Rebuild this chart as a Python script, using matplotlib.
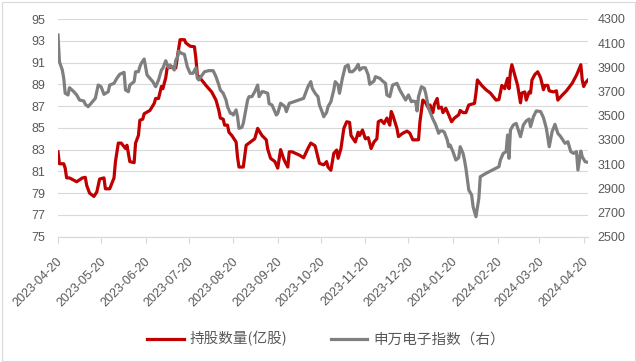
import numpy as np
import pandas as pd
import matplotlib
matplotlib.use("Agg")
import matplotlib.pyplot as plt
import matplotlib.dates as mdates
import matplotlib.transforms as mtransforms
from matplotlib.patches import Rectangle

# days counted from 2023-04-20
start = pd.Timestamp("2023-04-20")

hold_days = [0, 1, 4, 5, 6, 8, 13, 17, 19, 20, 22, 25, 27, 29, 32, 33, 36, 39, 40, 42,
             44, 47, 48, 50, 53, 54, 56, 57, 59, 60, 64, 67, 68, 70, 72, 73, 75, 76, 80, 82,
             83, 85, 88, 89, 92, 95, 96, 97, 100, 103, 105, 107, 110, 112, 113, 115, 116, 118, 119, 121,
             124, 125, 126, 129, 131, 134, 137, 139, 142, 145, 146, 148, 151, 153, 155, 157, 158, 160, 161, 163,
             168, 171, 174, 176, 179, 182, 185, 187, 188, 190, 192, 194, 195, 197, 199, 201, 203, 204, 207, 209,
             210, 212, 214, 216, 218, 220, 222, 223, 225, 227, 229, 231, 232, 233, 236, 237, 240, 243, 245, 247,
             251, 252, 254, 256, 258, 259, 261, 262, 264, 265, 267, 268, 270, 272, 274, 276, 279, 280, 282, 284,
             286, 290, 291, 292, 295, 298, 301, 305, 307, 309, 311, 312, 313, 314, 315, 316, 318, 320, 322, 323,
             325, 326, 328, 329, 330, 332, 334, 336, 338, 339, 341, 342, 345, 347, 348, 351, 354, 358, 361, 362,
             364, 365, 366, 367, 369]
hold_vals = [82.8, 81.7, 81.7, 81.3, 80.4, 80.4, 80.05, 80.4, 80.45, 79.7, 79.0, 78.7, 79.1, 80.3, 80.4, 79.4, 79.4, 80.4, 81.9, 83.6,
             83.6, 83.1, 83.4, 81.9, 81.8, 83.6, 84.3, 85.7, 85.8, 86.3, 86.6, 87.25, 87.7, 87.7, 88.8, 88.6, 89.6, 90.5, 90.6, 90.5,
             91.4, 93.1, 93.1, 92.8, 92.5, 92.45, 91.4, 89.85, 89.4, 88.9, 88.6, 88.3, 87.55, 86.6, 85.9, 85.8, 85.25, 85.25, 84.6, 84.3,
             83.7, 82.3, 81.4, 81.4, 83.4, 83.7, 84.0, 84.95, 84.3, 83.9, 83.05, 82.2, 81.9, 81.3, 83.0, 82.2, 81.9, 81.4, 82.8, 82.8,
             82.5, 82.25, 83.1, 83.6, 83.35, 81.74, 81.6, 81.9, 81.4, 81.1, 82.65, 82.96, 82.2, 83.1, 84.95, 85.56, 85.5, 84.3, 83.7, 84.6,
             84.3, 84.8, 84.0, 84.1, 83.1, 83.7, 84.0, 85.56, 85.7, 85.4, 85.9, 85.25, 86.5, 86.2, 84.95, 84.2, 84.5, 84.7, 84.5, 83.9,
             83.9, 85.56, 87.55, 87.3, 86.8, 87.1, 86.4, 87.15, 87.7, 86.8, 86.9, 86.4, 86.8, 86.2, 85.56, 85.9, 86.2, 86.6, 86.4, 86.4,
             87.1, 87.25, 88.2, 89.4, 88.9, 88.5, 88.2, 87.55, 87.6, 88.9, 88.6, 89.1, 89.55, 88.6, 90.15, 90.8, 89.85, 88.9, 87.3, 88.2,
             88.3, 87.55, 88.3, 88.2, 89.4, 89.9, 90.15, 89.6, 88.5, 88.9, 88.9, 88.4, 88.3, 88.4, 87.55, 88.0, 88.4, 89.1, 89.85, 90.15,
             90.8, 89.4, 88.8, 89.1, 89.4]

idx_days = [0, 1, 3, 4, 5, 7, 8, 11, 13, 15, 18, 19, 21, 23, 26, 28, 30, 32, 35, 36,
            39, 41, 43, 46, 47, 49, 50, 53, 54, 56, 57, 58, 60, 62, 64, 66, 68, 70, 72, 73,
            75, 77, 78, 81, 82, 83, 84, 86, 88, 90, 92, 94, 96, 97, 98, 100, 102, 105, 108, 110,
            112, 113, 115, 117, 118, 120, 121, 122, 124, 125, 126, 128, 129, 132, 133, 135, 137, 139, 140, 142,
            143, 146, 147, 149, 152, 153, 155, 158, 159, 161, 163, 171, 174, 176, 177, 179, 181, 182, 184, 185,
            187, 188, 190, 192, 193, 195, 196, 198, 200, 202, 203, 205, 207, 209, 210, 212, 214, 216, 217, 220,
            221, 224, 226, 228, 229, 231, 233, 236, 238, 240, 242, 244, 246, 247, 249, 250, 251, 253, 255, 256,
            258, 261, 263, 265, 266, 268, 269, 271, 272, 273, 275, 277, 279, 280, 282, 283, 284, 286, 288, 289,
            291, 293, 294, 298, 307, 308, 310, 312, 313, 314, 315, 317, 319, 322, 324, 326, 328, 329, 331, 333,
            336, 338, 340, 342, 344, 346, 348, 350, 353, 355, 357, 359, 361, 362, 364, 365, 367, 369]
idx_vals = [4168, 3947, 3878, 3810, 3686, 3672, 3732, 3699, 3672, 3630, 3622, 3595, 3575, 3603, 3644, 3754, 3740, 3677, 3699, 3754,
            3768, 3810, 3843, 3859, 3713, 3699, 3754, 3782, 3864, 3864, 3906, 3934, 3969, 3837, 3810, 3782, 3740, 3796, 3878, 3892,
            3955, 3897, 3920, 3878, 3961, 3975, 4035, 4016, 4008, 3906, 3851, 3851, 3897, 3810, 3796, 3831, 3864, 3873, 3873, 3823,
            3754, 3713, 3686, 3630, 3575, 3520, 3520, 3506, 3548, 3492, 3396, 3404, 3437, 3630, 3658, 3658, 3699, 3754, 3658, 3699,
            3699, 3686, 3600, 3589, 3506, 3520, 3603, 3575, 3534, 3603, 3611, 3644, 3740, 3782, 3727, 3686, 3658, 3589, 3528, 3492,
            3528, 3575, 3616, 3713, 3782, 3754, 3686, 3810, 3906, 3920, 3864, 3864, 3886, 3925, 3878, 3897, 3897, 3837, 3760, 3787,
            3823, 3810, 3787, 3768, 3672, 3658, 3754, 3768, 3713, 3672, 3630, 3672, 3616, 3622, 3616, 3540, 3658, 3740, 3727, 3686,
            3562, 3473, 3424, 3355, 3374, 3374, 3363, 3300, 3244, 3258, 3203, 3134, 3153, 3244, 3189, 3134, 3065, 2886, 2845, 2748,
            2665, 2817, 2996, 3024, 3079, 3134, 3189, 3203, 3341, 3148, 3382, 3424, 3437, 3327, 3424, 3457, 3473, 3410, 3492, 3540,
            3535, 3484, 3396, 3244, 3368, 3429, 3355, 3327, 3272, 3285, 3203, 3189, 3203, 3051, 3208, 3161, 3120, 3115]

tick_dates = ["2023-04-20", "2023-05-20", "2023-06-20", "2023-07-20", "2023-08-20", "2023-09-20",
              "2023-10-20", "2023-11-20", "2023-12-20", "2024-01-20", "2024-02-20", "2024-03-20",
              "2024-04-20"]
left_ticks = list(range(75, 96, 2))
right_ticks = list(range(2500, 4301, 200))

hold_label = "持股数量(亿股)"
idx_label = "申万电子指数（右）"

assert len(hold_days) == len(hold_vals)
assert len(idx_days) == len(idx_vals)

hold_x = start + pd.to_timedelta(hold_days, unit="D")
idx_x = start + pd.to_timedelta(idx_days, unit="D")

plt.rcParams['font.family'] = ['Liberation Sans', 'Noto Sans CJK SC', 'DejaVu Sans']
txt_col = "#595959"
grid_col = "#D9D9D9"

fig = plt.figure(figsize=(6.36, 3.62), dpi=100)
fig.patches.append(Rectangle((1.5 / 636, 1.5 / 362), 633 / 636, 359 / 362, transform=fig.transFigure,
                             fill=False, edgecolor=grid_col, linewidth=0.8))

ax = fig.add_axes([58 / 636, 1 - 236.7 / 362, 530 / 636, 217.7 / 362])
ax2 = ax.twinx()

ax.plot(hold_x, hold_vals, color="#C00000", lw=2.3, solid_joinstyle="round", label=hold_label)
ax2.plot(idx_x, idx_vals, color="#7F7F7F", lw=2.3, solid_joinstyle="round", label=idx_label)

ax.set_xlim(start, start + pd.Timedelta(days=369))
ax.set_ylim(75, 95)
ax2.set_ylim(2500, 4300)
ax.set_yticks(left_ticks)
ax2.set_yticks(right_ticks)
ax.set_xticks(pd.to_datetime(tick_dates))
ax.xaxis.set_major_formatter(mdates.DateFormatter("%Y-%m-%d"))

ax.grid(axis="y", color=grid_col, lw=0.8)
ax.set_axisbelow(True)
for a in (ax, ax2):
    for s in ("top", "left", "right"):
        a.spines[s].set_visible(False)
    a.spines["bottom"].set_color(grid_col)
    a.spines["bottom"].set_linewidth(0.8)

ax.tick_params(axis="y", length=0, pad=9, labelsize=9, labelcolor=txt_col)
ax2.tick_params(axis="y", length=0, pad=7, labelsize=9, labelcolor=txt_col)
ax.tick_params(axis="x", length=4.5, width=0.8, color=grid_col, pad=9, labelsize=9, labelcolor=txt_col)

shift = mtransforms.ScaledTranslation(7 / 100, 0, fig.dpi_scale_trans)
for lab in ax.get_xticklabels():
    lab.set_rotation(45)
    lab.set_ha("right")
    lab.set_va("top")
    lab.set_transform(lab.get_transform() + shift)

h1, l1 = ax.get_legend_handles_labels()
h2, l2 = ax2.get_legend_handles_labels()
fig.legend(h1 + h2, l1 + l2, loc="center", bbox_to_anchor=(326 / 636, 1 - 339 / 362), ncol=2,
           frameon=False, handlelength=2.5, handletextpad=0.4, columnspacing=3.0,
           prop={"family": ["Noto Sans CJK SC", "DejaVu Sans"], "size": 10.5}, labelcolor=txt_col)

fig.savefig("out.png", dpi=100)
